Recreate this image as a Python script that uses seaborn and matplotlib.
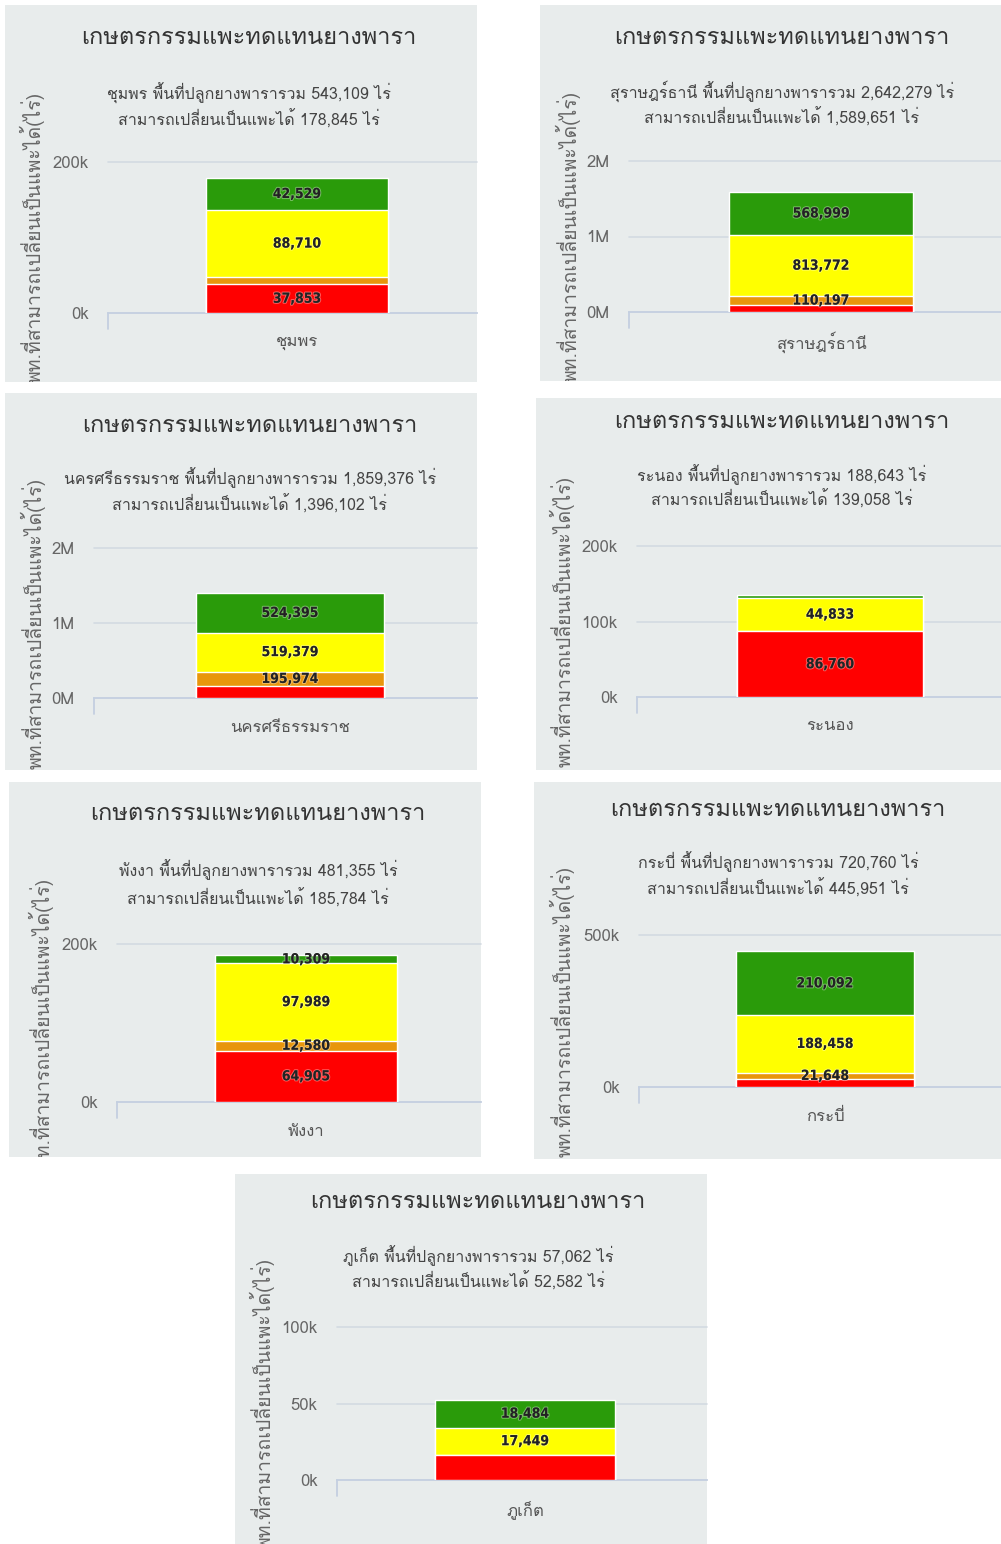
import matplotlib
matplotlib.use("Agg")
import matplotlib.pyplot as plt
from matplotlib import font_manager as fm
from matplotlib.ft2font import FT2Font
import matplotlib.patheffects as pe
import seaborn as sns
import numpy as np
import pandas as pd

# ---------------- data ----------------
chart_title = "เกษตรกรรมแพะทดแทนยางพารา"
y_axis_title = "พท.ที่สามารถเปลี่ยนเป็นแพะได้(ไร่)"
provinces = ["ชุมพร", "สุราษฎร์ธานี", "นครศรีธรรมราช", "ระนอง", "พังงา", "กระบี่", "ภูเก็ต"]
total_rubber = [543109, 2642279, 1859376, 188643, 481355, 720760, 57062]
convertible = [178845, 1589651, 1396102, 139058, 185784, 445951, 52582]
red_vals = [37853, 96683, 156354, 86760, 64905, 25753, 16649]
orange_vals = [9753, 110197, 195974, 0, 12580, 21648, 0]
yellow_vals = [88710, 813772, 519379, 44833, 97989, 188458, 17449]
green_vals = [42529, 568999, 524395, 4000, 10309, 210092, 18484]
red_label = [True, False, False, True, True, False, False]
orange_label = [False, True, True, False, True, True, False]
yellow_label = [True, True, True, True, True, True, True]
green_label = [True, True, True, False, True, True, True]
ytick_vals = [[0, 200000], [0, 1000000, 2000000], [0, 1000000, 2000000],
              [0, 100000, 200000], [0, 200000], [0, 500000], [0, 50000, 100000]]
ytick_text = [["0k", "200k"], ["0M", "1M", "2M"], ["0M", "1M", "2M"],
              ["0k", "100k", "200k"], ["0k", "200k"], ["0k", "500k"], ["0k", "50k", "100k"]]

# ---------------- layout (pixels) ----------------
W, H = 1001, 1544
panel_rects = [(5, 5, 477, 382), (540, 5, 1001, 381), (5, 393, 477, 770),
               (536, 398, 1001, 770), (9, 782, 481, 1157), (534, 782, 1001, 1159),
               (235, 1174, 707, 1544)]
plot_left = [108, 629, 94, 637, 117, 639, 337]
bar_center = [297, 821, 290, 830, 306, 825, 525]
y_top_px = [162, 161, 548, 546, 944, 935, 1327]
y_zero_px = [313, 312, 698, 697, 1102, 1087, 1480]
title_xy = [(249, 38), (782, 38), (250, 425), (782, 421), (258, 814), (778, 809), (478, 1201)]
sub_y = [(93, 120), (91, 118), (478, 505), (475, 500), (870, 899), (862, 889), (1256, 1282)]
ylabel_x = [32, 568, 33, 562, 41, 562, 262]
cat_y = [342, 342, 728, 726, 1132, 1117, 1510]

BG = "#e8ecec"
GRID = "#d3dae2"
AXIS = "#c4cfe0"
COLORS = {"red": "#ff0000", "orange": "#e8960c", "yellow": "#ffff00", "green": "#2a9b0a"}


def find_thai_font():
    seen = set()
    for f in fm.fontManager.ttflist:
        if f.name in seen:
            continue
        seen.add(f.name)
        try:
            cm = FT2Font(f.fname).get_charmap()
        except Exception:
            continue
        if 0x0E01 in cm and 0x0E48 in cm and 0x0E35 in cm:
            return f.name
    return None


sns.set_theme(style="white")
thai = find_thai_font()
fams = ([thai] if thai else []) + ["DejaVu Sans"]
plt.rcParams["font.family"] = fams

fig = plt.figure(figsize=(W / 100, H / 100), dpi=100)
fig.patch.set_facecolor("white")

for i in range(len(provinces)):
    x0, y0, x1, y1 = panel_rects[i]
    bg = fig.add_axes([x0 / W, 1 - y1 / H, (x1 - x0) / W, (y1 - y0) / H])
    bg.set_facecolor(BG)
    bg.set_xlim(x0, x1)
    bg.set_ylim(y1, y0)
    bg.set_xticks([])
    bg.set_yticks([])
    for s in bg.spines.values():
        s.set_visible(False)

    pl = plot_left[i]
    pr = 2 * bar_center[i] - pl
    right = min(pr, x1)
    yt, yz = y_top_px[i], y_zero_px[i]
    ax = fig.add_axes([pl / W, 1 - yz / H, (right - pl) / W, (yz - yt) / H])
    ax.set_facecolor("none")

    segs = [("red", red_vals[i], red_label[i]), ("orange", orange_vals[i], orange_label[i]),
            ("yellow", yellow_vals[i], yellow_label[i]), ("green", green_vals[i], green_label[i])]
    cums = np.cumsum([v for _, v, _ in segs])
    # draw from top cumulative down so lower segments overlay
    for (name, v, _), c in reversed(list(zip(segs, cums))):
        df = pd.DataFrame({"province": [provinces[i]], "value": [c]})
        sns.barplot(data=df, x="province", y="value", color=COLORS[name], width=0.48,
                    saturation=1, edgecolor="white", linewidth=1.0, ax=ax, zorder=3)
    bottoms = cums - np.array([v for _, v, _ in segs])
    for (name, v, show), b in zip(segs, bottoms):
        if show and v > 0:
            ax.text(0, b + v / 2, f"{v:,}", ha="center", va="center", fontsize=10,
                    fontweight="bold", color="#222222", zorder=5,
                    family=["DejaVu Sans"], fontstretch="condensed",
                    path_effects=[pe.withStroke(linewidth=1.5, foreground=(1, 1, 1, 0.35))])

    ax.set_xlim(-0.5, -0.5 + (right - pl) / (pr - pl))
    ax.set_ylim(0, ytick_vals[i][-1])
    ax.set_yticks(ytick_vals[i])
    ax.set_yticklabels(ytick_text[i])
    for t in ytick_vals[i]:
        if t > 0:
            ax.axhline(t, color=GRID, lw=1.2, zorder=1, clip_on=False)
    ax.set_xlabel("")
    ax.set_ylabel("")
    for s in ["top", "right", "left"]:
        ax.spines[s].set_visible(False)
    ax.spines["bottom"].set_color(AXIS)
    ax.spines["bottom"].set_linewidth(1.3)
    ax.tick_params(axis="y", length=0, pad=14, labelsize=12, labelcolor="#666666")
    ax.tick_params(axis="x", length=0, pad=(cat_y[i] - yz) * 0.72, labelsize=12,
                   labelcolor="#555555")
    for lbl in ax.get_xticklabels():
        lbl.set_va("center")
    # category boundary tick
    bg.plot([pl, pl], [yz, yz + 16], color=AXIS, lw=1.3)

    tx, ty = title_xy[i]
    bg.text(tx, ty, chart_title, ha="center", va="center", fontsize=17, color="#333333")
    bg.text(tx, sub_y[i][0], f"{provinces[i]} พื้นที่ปลูกยางพารารวม {total_rubber[i]:,} ไร่",
            ha="center", va="center", fontsize=11.5, color="#444444")
    bg.text(tx, sub_y[i][1], f"สามารถเปลี่ยนเป็นแพะได้ {convertible[i]:,} ไร่",
            ha="center", va="center", fontsize=11.5, color="#444444")
    bg.text(ylabel_x[i], (yt + yz) / 2, y_axis_title, rotation=90, ha="center", va="center",
            rotation_mode="anchor", fontsize=14, color="#666666", clip_on=True)

fig.savefig("out.png", dpi=100, facecolor="white")
